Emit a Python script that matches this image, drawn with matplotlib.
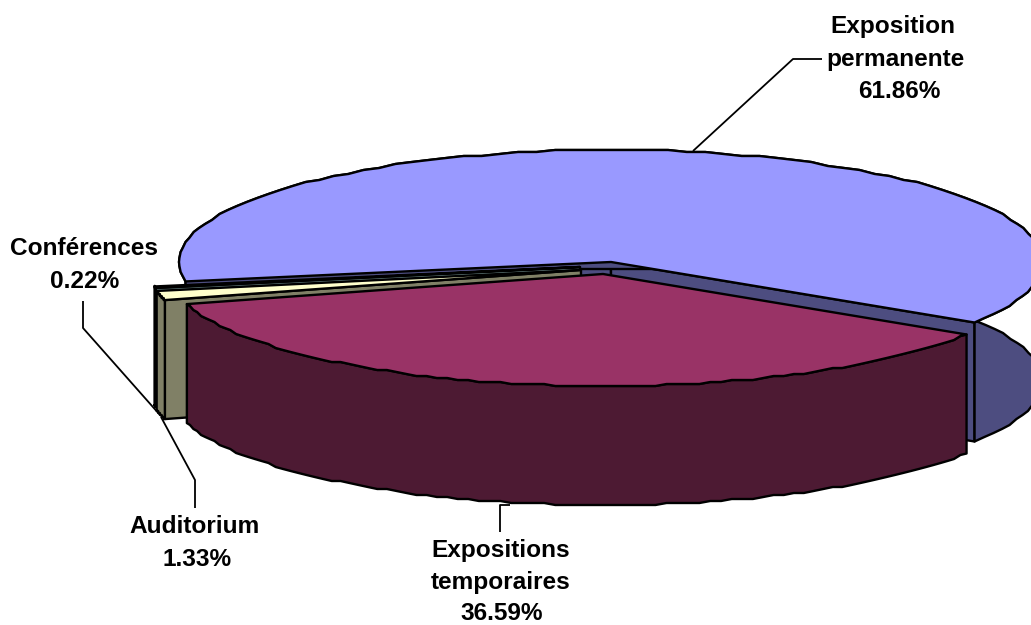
import numpy as np
from matplotlib import pyplot as plt
from matplotlib.patches import Polygon

plt.rcParams['font.family'] = ['Liberation Sans', 'DejaVu Sans']

categories = ["Exposition permanente", "Expositions temporaires", "Auditorium", "Conférences"]
shares = [61.86, 36.59, 1.33, 0.22]
top_colors = ["#9999FF", "#993366", "#FFFFCC", "#CCFFFF"]
side_colors = ["#4D4D80", "#4D1A33", "#808066", "#668080"]

# where each slice's tip ends up after the explode, in pixels
tips = [(611, 262), (603, 274), (581, 270), (580, 267)]
RX, RY = 432, 112
DEPTH = 119
START = 190  # degrees, slices run clockwise

fig = plt.figure(figsize=(10.31, 6.25), dpi=100)
ax = fig.add_axes([0, 0, 1, 1])
ax.set_xlim(0, 1031)
ax.set_ylim(625, 0)
ax.axis("off")


def arc(tip, a, b):
    t = np.radians(np.linspace(a, b, 90))
    xy = np.column_stack([tip[0] + RX * np.cos(t), tip[1] - RY * np.sin(t)])
    # the original outline is rough, stepped on a coarse grid
    xy[1:-1, 1] = np.round(xy[1:-1, 1] / 2) * 2
    return xy


def poly(xy, color, z):
    ax.add_patch(Polygon(xy, closed=True, fc=color, ec="black", lw=1.7, joinstyle="round", zorder=z))


def radial_face(tip, a, color, z):
    p = arc(tip, a, a + 0.01)[0]
    pts = [tip, p, (p[0], p[1] + DEPTH), (tip[0], tip[1] + DEPTH)]
    poly(pts, color, z)


def side(tip, a, b, color, z):
    edge = arc(tip, a, b)
    low = edge[::-1] + [0, DEPTH]
    poly(np.vstack([edge, low]), color, z)


angle = START
for i, share in enumerate(shares):
    sweep = share * 3.6
    a, b = angle, angle - sweep
    z = {0: 1, 3: 10, 2: 20, 1: 30}[i]
    tip = tips[i]
    # only the cut faces turned towards the viewer show
    if np.cos(np.radians(a)) < 0:
        radial_face(tip, a, side_colors[i], z)
    if np.cos(np.radians(b)) > 0:
        radial_face(tip, b, side_colors[i], z)
    side(tip, a, b, side_colors[i], z + 1)
    poly(np.vstack([[tip], arc(tip, a, b)]), top_colors[i], z + 2)
    angle = b

# leader lines
lines = [
    ([693, 793, 822], [151, 59, 59]),
    ([500, 500, 510], [532, 505, 505]),
    ([195, 195, 161], [508, 480, 417]),
    ([83, 83, 160], [301, 328, 415]),
]
for xs, ys in lines:
    ax.plot(xs, ys, color="black", lw=1.3, zorder=40, solid_capstyle="butt")

labels = [
    ("Exposition", 893, 33), ("permanente", 895, 66), ("61.86%", 899, 98),
    ("Expositions", 501, 557), ("temporaires", 501, 589), ("36.59%", 502, 620),
    ("Auditorium", 195, 533), ("1.33%", 197, 566),
    ("Conférences", 84, 255), ("0.22%", 85, 288),
]
for text, x, y in labels:
    ax.text(x, y, text, ha="center", va="baseline", fontsize=17.6, fontweight="bold", color="black", zorder=50)

fig.savefig("out.png", dpi=100, facecolor="white")
